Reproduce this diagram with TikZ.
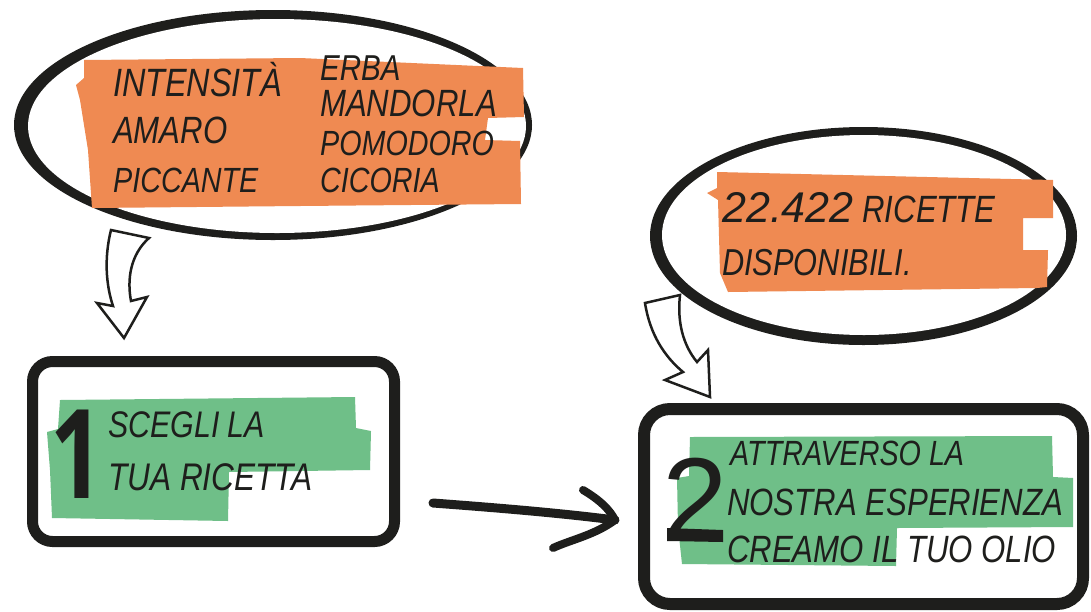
\documentclass[tikz,border=0pt]{standalone}
\usepackage{fontspec}
\newfontfamily\hand[FakeStretch=0.82]{Liberation Sans}
\newfontfamily\numfont{Liberation Sans}
\newfontfamily\onefont{Open Sans}
\usetikzlibrary{shapes.geometric}
\definecolor{ink}{HTML}{1E1E1C}
\definecolor{orng}{HTML}{EF8A52}
\definecolor{grn}{HTML}{6FBF88}
\begin{document}
\begin{tikzpicture}[x=1pt,y=-1pt,
  txt/.style={font=\hand\itshape\fontsize{#1}{#1}\selectfont, anchor=base west, inner sep=0pt, text=ink},
  hollow/.style={fill=white, draw=ink, line width=2.5, line join=miter},
  frame/.style={draw=ink, fill=white, rectangle}]
\useasboundingbox (0,0) rectangle (1091,611);

% hollow arrows (behind ellipses)
\filldraw[hollow] (111,230) .. controls (104,258) and (106,285) .. (113,306) -- (97,303) -- (124,338) -- (147,297) -- (131,301) .. controls (127,280) and (130,255) .. (149,238) -- cycle;
\filldraw[hollow] (645,303) .. controls (650,335) and (665,357) .. (683,372) -- (665,380) -- (710,397) -- (708,350) -- (697,362) .. controls (683,345) and (677,322) .. (680,295) -- cycle;

% top-left ellipse
\node[ellipse, fill=ink, minimum width=518, minimum height=230, inner sep=0pt] (e1) at (273,125) {};
\fill[white] (277,126) ellipse [x radius=249, y radius=107];
\fill[orng] (84,60) -- (300,58) -- (523,68) -- (524,117) -- (488,118) -- (485,140) -- (520,141) -- (521,204) -- (300,206) -- (92,208) -- (88,150) -- (80,100) -- (76,85) -- (84,78) -- cycle;
\node[txt=39.5] (t1) at (113,96) {INTENSITÀ};
\node[txt=38] (t2) at (113,143) {AMARO};
\node[txt=35] (t3) at (113,192) {PICCANTE};
\node[txt=36] (t4) at (320,80) {ERBA};
\node[txt=38] (t5) at (320,116) {MANDORLA};
\node[txt=35] (t6) at (320,155) {POMODORO};
\node[txt=35] (t7) at (320,192) {CICORIA};

% right ellipse
\node[ellipse, fill=ink, minimum width=427, minimum height=218, inner sep=0pt] (e2) at (863.5,236) {};
\fill[white] (864,235) ellipse [x radius=202, y radius=100];
\fill[orng] (717,172) -- (1053,180) -- (1053,218) -- (1023,218) -- (1023,250) -- (1048,250) -- (1047,287) -- (1037,288) -- (728,292) -- (720,273) -- (718,200) -- (707,193) -- (717,188) -- cycle;
\node[txt=38] (t8) at (722,222) {{\numfont\itshape\fontsize{43}{43}\selectfont 22.422} RICETTE};
\node[txt=37.5] (t9) at (722,275) {DISPONIBILI.};

% box 1
\node[frame, line width=11, rounded corners=20, minimum width=362, minimum height=180] (b1) at (213.5,451.5) {};
\fill[grn] (60,400) -- (355,397) -- (356,428) -- (371,431) -- (370,470) -- (229,472) -- (228,521) -- (52,518) -- (50,470) -- (47,432) -- (58,429) -- cycle;
\node[font=\onefont\bfseries\fontsize{124}{124}\selectfont, anchor=base west, inner sep=0pt, text=ink] (n1) at (50,498) {\scalebox{0.75}[1]{1}};
\node[txt=37] (t10) at (108,437) {SCEGLI LA};
\node[txt=38.5] (t11) at (108,490) {TUA RICETTA};

% box 2
\node[frame, line width=12, rounded corners=26, minimum width=439, minimum height=195] (b2) at (863.5,506.5) {};
\fill[grn] (690,437) -- (1052,436) -- (1053,477) -- (1073,478) -- (1073,527) -- (897,528) -- (896,566) -- (682,564) -- (678,527) -- (677,478) -- (689,476) -- cycle;
\node[font=\numfont\fontsize{118}{118}\selectfont, anchor=base west, inner sep=0pt, text=ink] (n2) at (662,540) {2};
\fill[ink] (667,528) -- (723,530) -- (723,542) -- (667,541) -- cycle;
\node[txt=35] (t12) at (730,465) {ATTRAVERSO LA};
\node[txt=38] (t13) at (727,515) {NOSTRA ESPERIENZA};
\node[txt=38] (t14) at (727,562) {CREAMO IL TUO OLIO};

% arrow between boxes
\coordinate (a1s) at (433,503);
\coordinate (a1e) at (615,520);
\draw[ink, line width=9, line cap=round] (a1s) .. controls (500,508) and (560,513) .. (a1e);
\draw[ink, line width=8, line cap=round, line join=round] (583,490) .. controls (600,500) and (610,510) .. (a1e) .. controls (595,535) and (570,540) .. (553,548);
\end{tikzpicture}
\end{document}
